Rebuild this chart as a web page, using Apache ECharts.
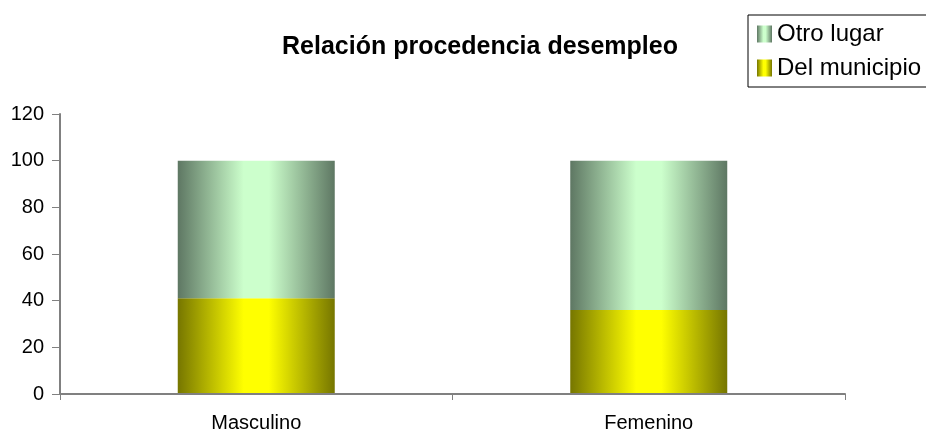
<!DOCTYPE html>
<html>
<head>
<meta charset="utf-8">
<script src="https://cdn.jsdelivr.net/npm/echarts@6/dist/echarts.min.js"></script>
<style>
  html, body { margin: 0; padding: 0; background: #fff; }
  #chart { width: 926px; height: 432px; }
</style>
</head>
<body>
<div id="chart"></div>
<script>
const categories = ['Masculino', 'Femenino'];
const delMunicipio = [41, 36];
const otroLugar = [59, 64];
const yTicks = { min: 0, max: 120, interval: 20 };

// gradiente horizontal tipo cilindro
function cylinder(edge, mid) {
  return {
    type: 'linear', x: 0, y: 0, x2: 1, y2: 0,
    colorStops: [
      { offset: 0, color: edge },
      { offset: 0.42, color: mid },
      { offset: 0.58, color: mid },
      { offset: 1, color: edge }
    ]
  };
}

const myChart = echarts.init(document.getElementById('chart'));

const option = {
  animation: false,
  textStyle: { fontFamily: 'Liberation Sans, Arial, sans-serif', color: '#000' },
  title: {
    text: 'Relación procedencia desempleo',
    left: 475,
    top: 30,
    textAlign: 'center',
    textStyle: { fontSize: 25, fontWeight: 'bold', color: '#000' }
  },
  legend: {
    orient: 'vertical',
    left: 748,
    top: 15,
    padding: [7, 30, 7, 9],
    itemGap: 10,
    itemWidth: 15,
    itemHeight: 17,
    icon: 'rect',
    borderColor: '#000',
    borderWidth: 1,
    borderRadius: 0,
    data: ['Otro lugar', 'Del municipio'],
    textStyle: { fontSize: 24, color: '#000' }
  },
  grid: { left: 60, right: 81, top: 114, bottom: 38, outerBoundsMode: 'none' },
  xAxis: {
    type: 'category',
    data: categories,
    z: 5,
    axisLine: { lineStyle: { color: '#808080', width: 2 } },
    axisTick: { show: true, length: 6, lineStyle: { color: '#808080' } },
    axisLabel: { fontSize: 20, color: '#000', margin: 19 }
  },
  yAxis: {
    type: 'value',
    min: yTicks.min,
    max: yTicks.max,
    interval: yTicks.interval,
    axisLine: { show: true, lineStyle: { color: '#808080', width: 2 } },
    axisTick: { show: true, length: 8, lineStyle: { color: '#808080' } },
    axisLabel: { fontSize: 20, color: '#000', margin: 16 },
    splitLine: { show: false }
  },
  series: [
    {
      name: 'Del municipio',
      type: 'bar',
      stack: 'total',
      barWidth: '40%',
      data: delMunicipio,
      itemStyle: { color: cylinder('#767600', '#ffff00') }
    },
    {
      name: 'Otro lugar',
      type: 'bar',
      stack: 'total',
      barWidth: '40%',
      data: otroLugar,
      itemStyle: { color: cylinder('#5e7763', '#ccffcc') }
    }
  ]
};

myChart.setOption(option);
</script>
</body>
</html>
